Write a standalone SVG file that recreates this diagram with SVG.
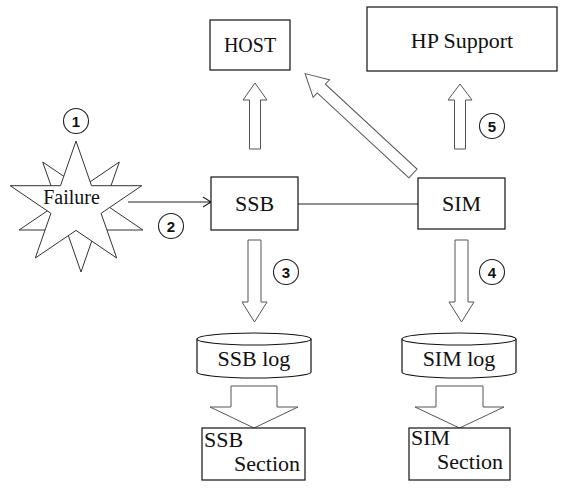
<svg xmlns="http://www.w3.org/2000/svg" width="572" height="490" viewBox="0 0 572 490">
<style>
.box{fill:#fff;stroke:#111;stroke-width:1.2}
.blk{fill:#fff;stroke:#555;stroke-width:1}
.star{fill:#fff;stroke:#333;stroke-width:1}
.lbl{font-family:"Liberation Serif","Times New Roman",serif;font-size:22px;fill:#111;text-anchor:middle}
.lbl20{font-size:20px}
.lft{text-anchor:start}
.num{font-family:"Liberation Sans",Arial,sans-serif;font-weight:bold;font-size:15px;fill:#111;text-anchor:middle}
.circ{fill:#fff;stroke:#222;stroke-width:1.1}
.ln{fill:none;stroke:#222;stroke-width:1.1}
</style>
<rect width="572" height="490" fill="#fff"/>

<g id="connectors">
  <path class="ln" d="M128,202 H211 M203,197 L211,202 L203,207"/>
  <path class="ln" d="M298,204 H418"/>
  <polygon class="blk" points="249.5,149 249.5,100 243,100 255,83 267,100 260.5,100 260.5,149"/>
  <polygon class="blk" points="454.5,149 454.5,100 448,100 460,84 472,100 465.5,100 465.5,149"/>
  <polygon class="blk" transform="translate(413,173.5) rotate(-137.2)" points="0,-6 125,-6 125,-12 147,0 125,12 125,6 0,6"/>
  <polygon class="blk" points="248,240 261,240 261,302 267,302 254.5,322 242,302 248,302"/>
  <polygon class="blk" points="455,240 468,240 468,302 474,302 461.5,322 449,302 455,302"/>
  <polygon class="blk" points="231,386 277,386 277,407 298,407 254,428 210,407 231,407"/>
  <polygon class="blk" points="436,386 483,386 483,407 504,407 459.5,428 415,407 436,407"/>
</g>

<g id="failure">
  <polygon class="star" points="81,272 95.6,230 142.9,230 104.6,204 119.3,162 81,188 42.7,162 57.4,204 19.1,230 66.4,230"/>
  <polygon class="star" points="76,141 91.5,185.7 141.8,185.7 101.1,213.3 116.7,258 76,230.4 35.3,258 50.9,213.3 10.2,185.7 60.5,185.7"/>
  <text class="lbl lbl20" x="71.5" y="204">Failure</text>
</g>

<g id="host">
  <rect class="box" x="210" y="20" width="80" height="50"/>
  <text class="lbl lbl20" x="250" y="52">HOST</text>
</g>

<g id="hp-support">
  <rect class="box" x="367" y="7" width="190" height="64"/>
  <text class="lbl" x="462" y="48">HP Support</text>
</g>

<g id="ssb">
  <rect class="box" x="211" y="177" width="87" height="53"/>
  <text class="lbl" x="254.5" y="211">SSB</text>
</g>

<g id="sim">
  <rect class="box" x="418" y="178" width="87" height="51"/>
  <text class="lbl" x="461.5" y="211">SIM</text>
</g>

<g id="ssb-log">
  <path class="box" d="M197,339 V372 A57,6 0 0 0 311,372 V339"/>
  <ellipse class="box" cx="254" cy="339" rx="57" ry="6"/>
  <text class="lbl" x="254" y="366">SSB log</text>
</g>

<g id="sim-log">
  <path class="box" d="M402,339 V372 A57,6 0 0 0 516,372 V339"/>
  <ellipse class="box" cx="459" cy="339" rx="57" ry="6"/>
  <text class="lbl" x="459" y="366">SIM log</text>
</g>

<g id="ssb-section">
  <rect class="box" x="202" y="428" width="103" height="52"/>
  <text class="lbl lft" x="204" y="447">SSB</text>
  <text class="lbl lft" x="234" y="471">Section</text>
</g>

<g id="sim-section">
  <rect class="box" x="409" y="428" width="101" height="52"/>
  <text class="lbl lft" x="411" y="445">SIM</text>
  <text class="lbl lft" x="437" y="469">Section</text>
</g>

<g id="step1"><circle class="circ" cx="76" cy="121" r="12.5"/><text class="num" x="76" y="126.5">1</text></g>
<g id="step2"><circle class="circ" cx="171" cy="226" r="12.5"/><text class="num" x="171" y="231.5">2</text></g>
<g id="step3"><circle class="circ" cx="286" cy="272" r="12.5"/><text class="num" x="286" y="277.5">3</text></g>
<g id="step4"><circle class="circ" cx="492" cy="272" r="12.5"/><text class="num" x="492" y="277.5">4</text></g>
<g id="step5"><circle class="circ" cx="492" cy="126" r="12.5"/><text class="num" x="492" y="131.5">5</text></g>
</svg>
